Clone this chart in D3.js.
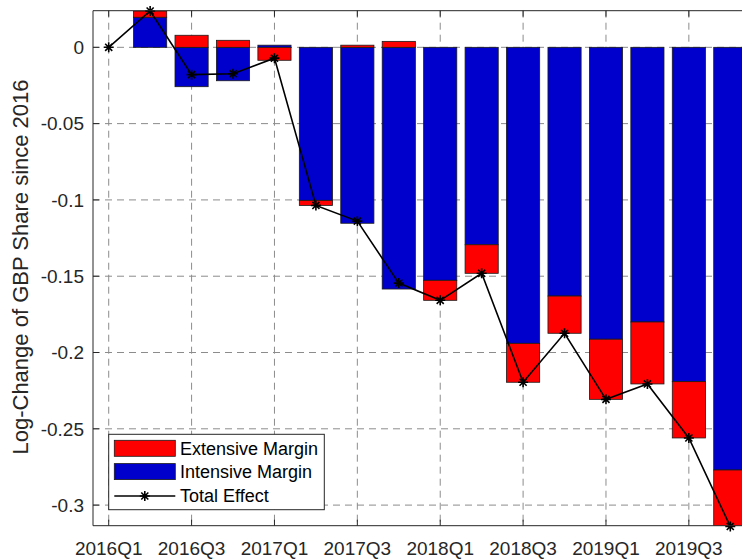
<!DOCTYPE html>
<html><head><meta charset="utf-8">
<script src="https://cdn.jsdelivr.net/npm/d3@7"></script>
<style>body{margin:0;background:#fff;} svg{display:block;}</style>
</head><body>
<svg id="c" width="742" height="559"></svg>
<script>
const quarters = ["2016Q1","2016Q2","2016Q3","2016Q4","2017Q1","2017Q2","2017Q3","2017Q4",
                  "2018Q1","2018Q2","2018Q3","2018Q4","2019Q1","2019Q2","2019Q3","2019Q4"];
const intensive = [0, 0.0197, -0.0258, -0.0219, 0.0014, -0.1003, -0.1153, -0.1584,
                   -0.1527, -0.1294, -0.1940, -0.1630, -0.1913, -0.1800, -0.2191, -0.2770];
const extensive = [0, 0.0041, 0.0079, 0.0046, -0.0085, -0.0033, 0.0014, 0.0039,
                   -0.0131, -0.0187, -0.0255, -0.0244, -0.0394, -0.0406, -0.0369, -0.0370];
const total = intensive.map((v,i)=>v+extensive[i]);
const yTicks = [0, -0.05, -0.1, -0.15, -0.2, -0.25, -0.3];
const xTickLabels = ["2016Q1","2016Q3","2017Q1","2017Q3","2018Q1","2018Q3","2019Q1","2019Q3"];

const svg = d3.select("#c");
const L = 93, R = 746, T = 10.7, B = 525.7;
const x = d3.scaleLinear().domain([-0.379, quarters.length - 1 + 0.379]).range([L, R]);
const y = d3.scaleLinear().domain([-0.3135, 0.024]).range([B, T]);
const bw = (x(1) - x(0)) * 0.8;
const font = "'Liberation Sans', Arial, Helvetica, sans-serif";
const txt = "#262626";

svg.append("defs").append("clipPath").attr("id","clip")
  .append("rect").attr("x",L).attr("y",T).attr("width",R-L).attr("height",B-T);

// grid
const g = svg.append("g");
yTicks.forEach(t=>{
  g.append("line").attr("x1",L).attr("x2",R).attr("y1",y(t)).attr("y2",y(t))
   .attr("stroke","#8c8c8c").attr("stroke-width",1).attr("stroke-dasharray","7,5");
});
xTickLabels.forEach(lbl=>{
  const i = quarters.indexOf(lbl);
  g.append("line").attr("x1",x(i)).attr("x2",x(i)).attr("y1",T).attr("y2",B)
   .attr("stroke","#8c8c8c").attr("stroke-width",1).attr("stroke-dasharray","7,5");
});

// stacked bars (intensive first, extensive stacked on same-sign side)
const bars = svg.append("g").attr("clip-path","url(#clip)");
quarters.forEach((q,i)=>{
  let pos = 0, neg = 0;
  [[intensive[i],"#0000CC"],[extensive[i],"#FF0000"]].forEach(([v,col])=>{
    if (v === 0) return;
    let y0, y1;
    if (v > 0) { y0 = pos; y1 = pos + v; pos = y1; }
    else { y0 = neg; y1 = neg + v; neg = y1; }
    bars.append("rect")
      .attr("x", x(i) - bw/2).attr("width", bw)
      .attr("y", y(Math.max(y0,y1))).attr("height", Math.abs(y(y0)-y(y1)))
      .attr("fill", col).attr("stroke","#1a1a1a").attr("stroke-width",0.8);
  });
});

// total effect line
const line = d3.line().x((d,i)=>x(i)).y(d=>y(d));
svg.append("path").datum(total).attr("d",line).attr("fill","none")
  .attr("stroke","#000").attr("stroke-width",1.6);
function star(sel, cx, cy, r){
  const a = r*0.7071;
  sel.append("path").attr("d",
    `M${cx-r},${cy}L${cx+r},${cy}M${cx},${cy-r}L${cx},${cy+r}M${cx-a},${cy-a}L${cx+a},${cy+a}M${cx-a},${cy+a}L${cx+a},${cy-a}`)
    .attr("stroke","#000").attr("stroke-width",1.6).attr("fill","none");
}
total.forEach((v,i)=>star(svg, x(i), y(v), 5));

// axes box (left, top, bottom)
svg.append("path").attr("d",`M${R},${T}L${L},${T}L${L},${B}L${R},${B}`)
  .attr("fill","none").attr("stroke","#262626").attr("stroke-width",1);

// ticks
yTicks.forEach(t=>{
  svg.append("line").attr("x1",L).attr("x2",L+6).attr("y1",y(t)).attr("y2",y(t)).attr("stroke","#262626");
  svg.append("text").attr("x",L-9).attr("y",y(t)).attr("dy","0.36em").attr("text-anchor","end")
    .attr("font-family",font).attr("font-size",19).attr("fill",txt).text(String(t));
});
xTickLabels.forEach(lbl=>{
  const i = quarters.indexOf(lbl);
  svg.append("line").attr("x1",x(i)).attr("x2",x(i)).attr("y1",B).attr("y2",B-6).attr("stroke","#262626");
  svg.append("line").attr("x1",x(i)).attr("x2",x(i)).attr("y1",T).attr("y2",T+6).attr("stroke","#262626");
  svg.append("text").attr("x",x(i)).attr("y",B+29.5).attr("text-anchor","middle")
    .attr("font-family",font).attr("font-size",19).attr("fill",txt).text(lbl);
});

// y label
svg.append("text").attr("transform",`translate(27.5,267) rotate(-90)`)
  .attr("text-anchor","middle").attr("font-family",font).attr("font-size",22).attr("fill",txt)
  .text("Log-Change of GBP Share since 2016");

// legend
const lg = svg.append("g");
lg.append("rect").attr("x",108.7).attr("y",434.3).attr("width",215.6).attr("height",75.4)
  .attr("fill","#fff").attr("stroke","#262626").attr("stroke-width",1);
const entries = [["Extensive Margin","#FF0000"],["Intensive Margin","#0000CC"]];
entries.forEach(([name,col],k)=>{
  const cy = 448.3 + k*23.3;
  lg.append("rect").attr("x",114.3).attr("y",cy-8).attr("width",61).attr("height",16)
    .attr("fill",col).attr("stroke","#1a1a1a").attr("stroke-width",0.8);
  lg.append("text").attr("x",180).attr("y",cy).attr("dy","0.36em")
    .attr("font-family",font).attr("font-size",18).attr("fill","#000").text(name);
});
lg.append("line").attr("x1",114.3).attr("x2",175.3).attr("y1",496).attr("y2",496)
  .attr("stroke","#000").attr("stroke-width",1.6);
star(lg, 144.8, 496, 5);
lg.append("text").attr("x",180).attr("y",496).attr("dy","0.36em")
  .attr("font-family",font).attr("font-size",18).attr("fill","#000").text("Total Effect");
</script>
</body></html>
